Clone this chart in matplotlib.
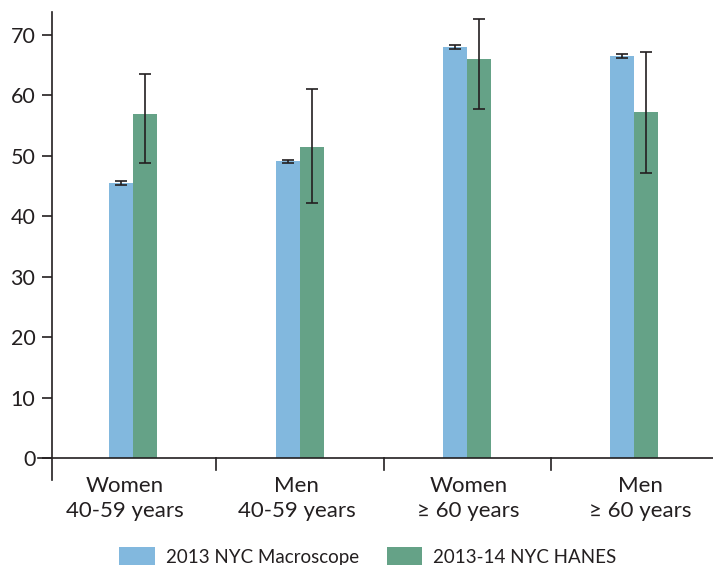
import matplotlib
matplotlib.use("Agg")
import matplotlib.pyplot as plt
from matplotlib.patches import Patch
import numpy as np

categories = ["Women\n40-59 years", "Men\n40-59 years", "Women\n\u2265 60 years", "Men\n\u2265 60 years"]
series_names = ["2013 NYC Macroscope", "2013-14 NYC HANES"]
macroscope = [45.5, 49.1, 68.0, 66.5]
macroscope_lo = [45.2, 48.8, 67.7, 66.2]
macroscope_hi = [45.8, 49.4, 68.3, 66.8]
hanes = [56.9, 51.5, 66.0, 57.3]
hanes_lo = [48.8, 42.2, 57.8, 47.1]
hanes_hi = [63.5, 61.1, 72.6, 67.2]
yticks = [0, 10, 20, 30, 40, 50, 60, 70]

blue = "#82b8de"
green = "#65a287"
ink = "#231f20"

plt.rcParams['font.family'] = ['Lato', 'DejaVu Sans']

W, H = 713, 565
fig = plt.figure(figsize=(W / 100, H / 100), dpi=100)
ax_left, ax_right = 52 / W, 1.0
ax_top, ax_bot = 1 - 12 / H, 1 - 480 / H
ax = fig.add_axes([ax_left, ax_bot, ax_right - ax_left, ax_top - ax_bot])

x = np.arange(len(categories))
bw = 0.145
err_m = [np.array(macroscope) - np.array(macroscope_lo), np.array(macroscope_hi) - np.array(macroscope)]
err_h = [np.array(hanes) - np.array(hanes_lo), np.array(hanes_hi) - np.array(hanes)]
ax.bar(x - bw / 2, macroscope, bw, color=blue, yerr=err_m,
       error_kw=dict(ecolor=ink, elinewidth=1.2, capsize=4.5, capthick=1.2))
ax.bar(x + bw / 2, hanes, bw, color=green, yerr=err_h,
       error_kw=dict(ecolor=ink, elinewidth=1.2, capsize=4.5, capthick=1.2))

ax.set_xlim(-0.485, 3.473)
ax.set_ylim(-3.6, 73.8)
for s in ["top", "right", "bottom"]:
    ax.spines[s].set_visible(False)
ax.spines["left"].set_color(ink)
ax.spines["left"].set_linewidth(1.2)
ax.set_yticks(yticks)
ax.set_yticklabels([str(v) for v in yticks], fontsize=15.5, color=ink)
ax.tick_params(axis="y", length=7, width=1.2, color=ink, pad=5)
ax.set_xticks([])

# zero baseline extending slightly left of spine
ax.plot([-0.57, 3.473], [0, 0], color=ink, lw=1.2, clip_on=False, zorder=3)
for sx in [0.5, 1.5, 2.5]:
    ax.plot([sx, sx], [0, -2.0], color=ink, lw=1.2, clip_on=False)

for xi, lab in zip(x, categories):
    ax.text(-0.048 + 1.028 * xi, -2.9, lab, ha="center", va="top", fontsize=16, color=ink,
            linespacing=1.3, clip_on=False)

handles = [Patch(facecolor=blue, edgecolor="none"), Patch(facecolor=green, edgecolor="none")]
fig.legend(handles, series_names, loc="center", bbox_to_anchor=(368 / W, 1 - 557 / H), ncol=2,
           frameon=False, fontsize=13.5, handlelength=1.87, handleheight=1.2,
           columnspacing=1.5, handletextpad=0.6, labelcolor=ink)

fig.savefig("out.png", dpi=100)
